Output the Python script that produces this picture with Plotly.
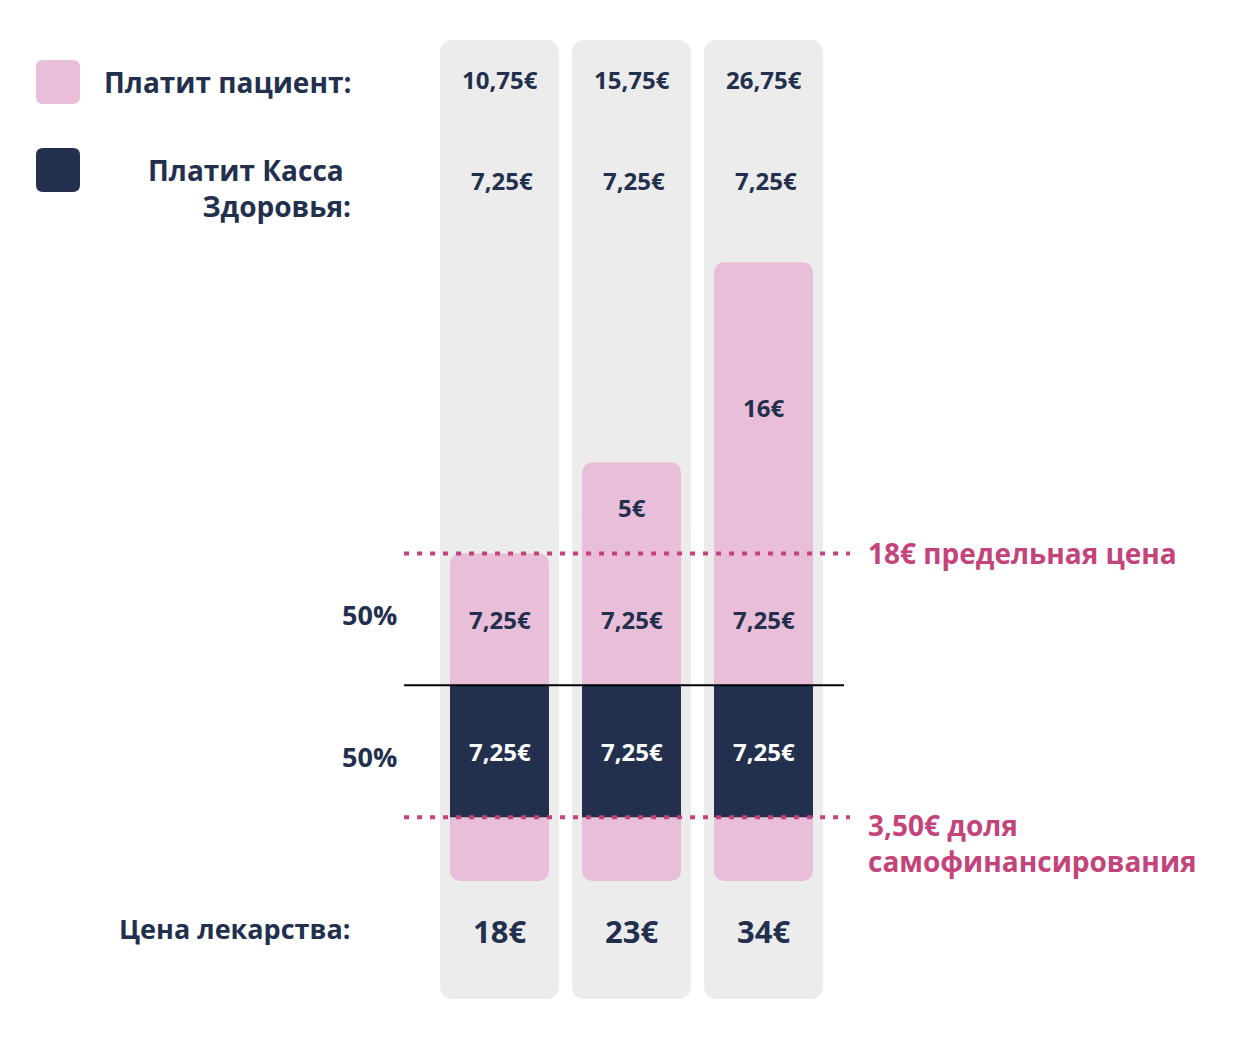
import plotly.graph_objects as go

# ---------------- data ----------------
prices = [18, 23, 34]                 # Цена лекарства (€)
self_share = [3.5, 3.5, 3.5]          # доля самофинансирования (€)
kasse_share = [7.25, 7.25, 7.25]      # Платит Касса Здоровья (€)
patient_half = [7.25, 7.25, 7.25]     # 50% paid by patient (€)
extra = [0, 5, 16]                    # above the 18€ limit (€)
patient_total = [10.75, 15.75, 26.75] # Платит пациент (€)
limit_price = 18
price_labels = ["18€", "23€", "34€"]
patient_labels = ["10,75€", "15,75€", "26,75€"]
kasse_labels = ["7,25€", "7,25€", "7,25€"]
half_labels = ["7,25€", "7,25€", "7,25€"]
extra_labels = ["", "5€", "16€"]

# ---------------- style ----------------
W, H = 1240, 1040
PINK = "#e9bed8"
NAVY = "#22304e"
GREY = "#ececec"
ACCENT = "#c4437a"
TXT = "#22304e"
FONT = "Open Sans"

X0_PX, X_STEP = 499.5, 132.0   # pixel of first column, pixels per column
Y0_PX, Y_STEP = 881.0, 18.2    # pixel of 0€, pixels per €
xr = [-X0_PX / X_STEP, (W - X0_PX) / X_STEP]
yr = [-(H - Y0_PX) / Y_STEP, Y0_PX / Y_STEP]
panel_top = (Y0_PX - 40) / Y_STEP
panel_bottom = (Y0_PX - 999) / Y_STEP
panel_split_hi, panel_split_lo = 10.0, 20.0

xs = list(range(len(prices)))
mid = [s + k for s, k in zip(self_share, kasse_share)]

fig = go.Figure()
# background panels: upper piece rounded at top, lower piece rounded at bottom, overlapping
fig.add_trace(go.Bar(x=xs, y=[panel_top - panel_split_hi] * 3, base=[panel_split_hi] * 3, width=0.9,
                     marker=dict(color=GREY, cornerradius=12, line_width=0), hoverinfo="skip"))
fig.add_trace(go.Bar(x=xs, y=[panel_bottom - panel_split_lo] * 3, base=[panel_split_lo] * 3, width=0.9,
                     marker=dict(color=GREY, cornerradius=12, line_width=0), hoverinfo="skip"))
# patient (pink): lower piece down to 0 (rounded bottom), upper piece up to price (rounded top)
fig.add_trace(go.Bar(x=xs, y=[-m for m in mid], base=mid, width=0.75,
                     marker=dict(color=PINK, cornerradius=10, line_width=0), name="Платит пациент"))
fig.add_trace(go.Bar(x=xs, y=[p - s for p, s in zip(prices, self_share)], base=self_share, width=0.75,
                     marker=dict(color=PINK, cornerradius=10, line_width=0), name="Платит пациент"))
# health fund (navy)
fig.add_trace(go.Bar(x=xs, y=kasse_share, base=self_share, width=0.75,
                     marker=dict(color=NAVY, cornerradius=0, line_width=0), name="Платит Касса Здоровья"))

# reference lines
lx = [-0.723, 2.655]
fig.add_trace(go.Scatter(x=lx, y=[limit_price] * 2, mode="lines",
                         line=dict(color=ACCENT, width=4, dash="5px,8px"), hoverinfo="skip"))
fig.add_trace(go.Scatter(x=lx, y=[self_share[0]] * 2, mode="lines",
                         line=dict(color=ACCENT, width=4, dash="5px,8px"), hoverinfo="skip"))
fig.add_trace(go.Scatter(x=[-0.723, 2.61], y=[mid[0]] * 2, mode="lines",
                         line=dict(color="#000000", width=2), hoverinfo="skip"))

ann = []
def txt(x, y, s, size, color=TXT, xref="x", yref="y", xanchor="center", yanchor="middle",
        family=FONT, align="center"):
    ann.append(dict(x=x, y=y, text=s, xref=xref, yref=yref, xanchor=xanchor, yanchor=yanchor,
                    showarrow=False, align=align,
                    font=dict(family=family, size=size, color=color, weight=700)))

def py(p):
    return 1 - p / H

for i in xs:
    txt(i, py(80), patient_labels[i], 24, yref="paper")
    txt(i + 0.02, py(180), kasse_labels[i], 24, yref="paper")
    txt(i, py(931), price_labels[i], 31, yref="paper")
    txt(i, self_share[i] + kasse_share[i] / 2, kasse_labels[i], 24, color="#ffffff")
    txt(i, mid[i] + patient_half[i] / 2, half_labels[i], 24)
    if extra[i] > 0:
        txt(i, limit_price + extra[i] / 2, extra_labels[i], 24)

# left labels
txt(353 / W, py(82), "Платит пациент:", 28, xref="paper", yref="paper", xanchor="right")
txt(353 / W, py(188), "Платит Касса <br>Здоровья:", 28, xref="paper", yref="paper",
    xanchor="right", align="right")
txt(353 / W, py(928), "Цена лекарства:", 27, xref="paper", yref="paper", xanchor="right")
txt(399 / W, py(614), "50%", 27, xref="paper", yref="paper", xanchor="right")
txt(399 / W, py(756), "50%", 27, xref="paper", yref="paper", xanchor="right")

# right labels
txt(866 / W, limit_price, "18€ предельная цена", 28, color=ACCENT, xref="paper", xanchor="left")
txt(866 / W, py(843), "3,50€ доля<br>самофинансирования", 28, color=ACCENT, xref="paper",
    yref="paper", xanchor="left", align="left")

# legend squares (rounded)
def rounded(x0, y0, x1, y1, r):
    rx, ry = r / W, r / H
    X0, X1 = x0 / W, x1 / W
    Y0, Y1 = py(y1), py(y0)
    return (f"M{X0+rx},{Y0} L{X1-rx},{Y0} Q{X1},{Y0} {X1},{Y0+ry} L{X1},{Y1-ry} "
            f"Q{X1},{Y1} {X1-rx},{Y1} L{X0+rx},{Y1} Q{X0},{Y1} {X0},{Y1-ry} "
            f"L{X0},{Y0+ry} Q{X0},{Y0} {X0+rx},{Y0} Z")

shapes = [
    dict(type="path", xref="paper", yref="paper", path=rounded(36, 60, 80, 104, 7),
         fillcolor=PINK, line_width=0),
    dict(type="path", xref="paper", yref="paper", path=rounded(36, 148, 80, 192, 7),
         fillcolor=NAVY, line_width=0),
]

fig.update_layout(
    width=W, height=H, autosize=False,
    margin=dict(l=0, r=0, t=0, b=0),
    paper_bgcolor="#ffffff", plot_bgcolor="#ffffff",
    barmode="overlay", showlegend=False,
    xaxis=dict(range=xr, visible=False, fixedrange=True),
    yaxis=dict(range=yr, visible=False, fixedrange=True),
    annotations=ann, shapes=shapes,
)
fig.write_html("out.html")
